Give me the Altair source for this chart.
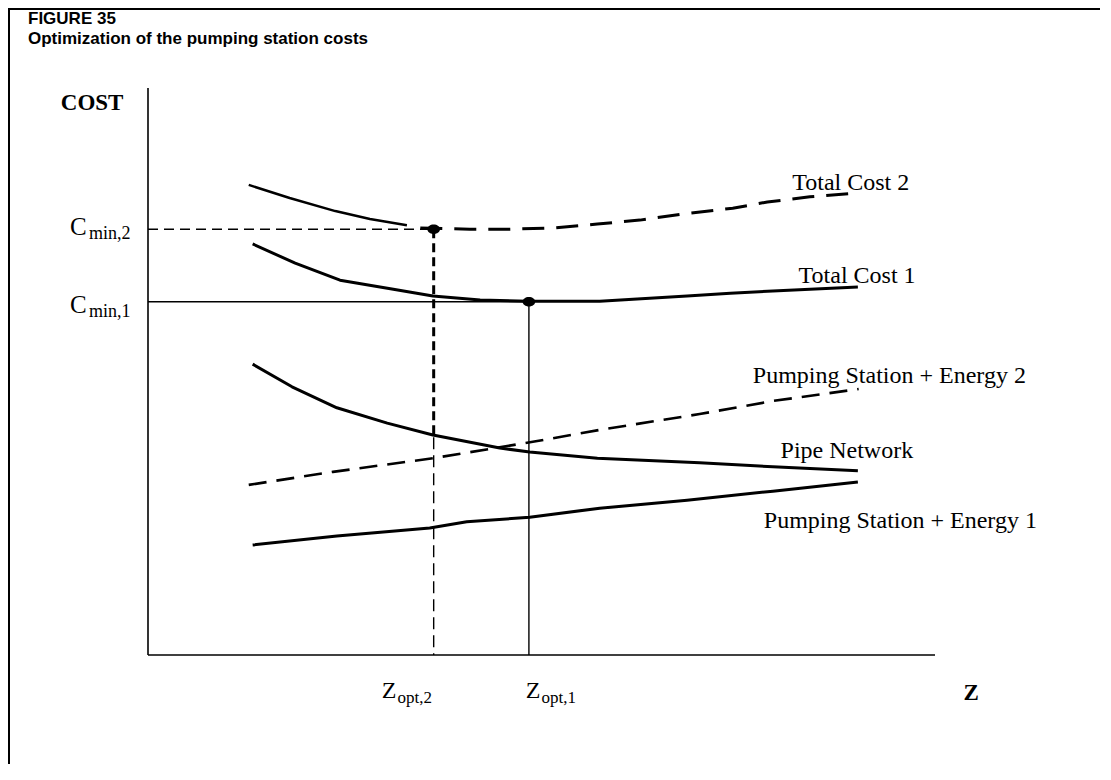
import altair as alt
import pandas as pd

# Both axes are schematic: values are % of the drawn axis length.
tc2a_z = [12.8, 18.0, 23.8, 28.2, 32.9]
tc2a_c = [82.9, 80.6, 78.3, 76.9, 75.8]
tc2b_z = [34.6, 40.9, 46.0, 51.5, 57.1, 62.5, 68.0, 74.3, 78.7, 84.1, 90.2]
tc2b_c = [75.3, 75.1, 75.1, 75.3, 76.0, 76.7, 77.8, 78.8, 79.9, 80.8, 81.5]
tc1_z = [13.3, 18.7, 24.4, 30.8, 36.2, 42.2, 48.3, 57.4, 68.5, 74.0, 79.4, 90.2]
tc1_c = [72.5, 69.1, 66.1, 64.6, 63.3, 62.6, 62.4, 62.4, 63.3, 63.8, 64.2, 64.9]
pipe_z = [13.3, 18.3, 24.0, 30.4, 36.2, 44.7, 48.5, 57.1, 70.1, 79.4, 90.2]
pipe_c = [51.3, 47.3, 43.6, 40.9, 38.8, 36.5, 35.8, 34.7, 33.9, 33.2, 32.5]
pse2_z = [12.8, 23.5, 36.2, 48.9, 57.4, 70.1, 79.4, 90.3]
pse2_c = [30.0, 32.3, 34.7, 37.6, 39.7, 42.5, 44.8, 46.9]
pse1_z = [13.3, 24.0, 35.8, 40.5, 48.5, 57.4, 68.5, 79.4, 90.2]
pse1_c = [19.4, 21.0, 22.4, 23.5, 24.3, 25.9, 27.3, 28.9, 30.5]

z_opt = [36.3, 48.4]   # Z_opt,2 , Z_opt,1
c_min = [75.1, 62.3]   # C_min,2 , C_min,1
z_bold_end = 38.4      # where the bold part of the Z_opt,2 drop line ends

curve_labels = ["Total Cost 2", "Total Cost 1", "Pumping Station + Energy 2",
                "Pipe Network", "Pumping Station + Energy 1"]
curve_label_z = [89.3, 90.1, 94.2, 88.8, 95.6]
curve_label_c = [82.0, 65.6, 48.0, 34.7, 22.4]

c_letters = ["C", "C"]
c_subs = ["min,2", "min,1"]
c_letter_z = [-9.9, -9.9]
c_letter_c = [74.1, 60.3]
c_sub_z = [-7.5, -7.5]
c_sub_c = [73.4, 59.6]

z_letters = ["Z", "Z"]
z_subs = ["opt,2", "opt,1"]
z_letter_z = [29.7, 48.0]
z_letter_c = [-7.6, -7.6]
z_sub_z = [31.7, 50.0]
z_sub_c = [-8.5, -8.5]

axis_titles = ["COST", "Z"]
axis_title_z = [-7.1, 104.6]
axis_title_c = [96.1, -7.9]

title_lines = ["FIGURE 35", "Optimization of the pumping station costs"]

W, H = 1092, 756
XS = alt.Scale(domain=[0, 100], range=[140, 927], nice=False, zero=False)
YS = alt.Scale(domain=[0, 100], range=[647, 80], nice=False, zero=False)
SERIF = "Liberation Serif"


def pts(zs, cs):
    return pd.DataFrame({"z": zs, "c": cs, "i": list(range(len(zs)))})


def line(df, width, dash=None):
    kw = dict(color="black", strokeWidth=width, strokeCap="butt", strokeJoin="round")
    if dash:
        kw["strokeDash"] = dash
    return alt.Chart(df).mark_line(**kw).encode(
        x=alt.X("z:Q", scale=XS, axis=None),
        y=alt.Y("c:Q", scale=YS, axis=None),
        order="i:Q",
    )


def text(texts, zs, cs, size, align="left", weight="normal"):
    df = pd.DataFrame({"t": texts, "z": zs, "c": cs})
    return alt.Chart(df).mark_text(
        align=align, baseline="alphabetic", font=SERIF, fontSize=size,
        fontWeight=weight, color="black",
    ).encode(
        x=alt.X("z:Q", scale=XS, axis=None),
        y=alt.Y("c:Q", scale=YS, axis=None),
        text="t:N",
    )


layers = [
    # axes
    line(pts([0, 0], [0, 100]), 1.6),
    line(pts([0, 100], [0, 0]), 1.6),
    # guide lines
    line(pts([0, z_opt[0]], [c_min[0], c_min[0]]), 1.6, [10, 6]),
    line(pts([0, z_opt[1]], [c_min[1], c_min[1]]), 1.4),
    line(pts([z_opt[0], z_opt[0]], [c_min[0], z_bold_end]), 3, [9, 5]),
    line(pts([z_opt[0], z_opt[0]], [z_bold_end, 0]), 1.4, [12, 6]),
    line(pts([z_opt[1], z_opt[1]], [c_min[1], 0]), 1.4),
    # curves
    line(pts(tc2a_z, tc2a_c), 2.4),
    line(pts(tc2b_z, tc2b_c), 3, [22, 12]),
    line(pts(tc1_z, tc1_c), 3),
    line(pts(pipe_z, pipe_c), 3),
    line(pts(pse2_z, pse2_c), 2.6, [18, 10]),
    line(pts(pse1_z, pse1_c), 3),
    # optimum points
    alt.Chart(pd.DataFrame({"z": z_opt, "c": c_min})).mark_point(
        filled=True, color="black", opacity=1, size=160,
        shape="M -1 0 A 1 0.75 0 1 1 1 0 A 1 0.75 0 1 1 -1 0 Z",
    ).encode(
        x=alt.X("z:Q", scale=XS, axis=None),
        y=alt.Y("c:Q", scale=YS, axis=None),
    ),
    # labels
    text(curve_labels, curve_label_z, curve_label_c, 24, align="center"),
    text(c_letters, c_letter_z, c_letter_c, 25),
    text(c_subs, c_sub_z, c_sub_c, 18),
    text(z_letters, z_letter_z, z_letter_c, 24),
    text(z_subs, z_sub_z, z_sub_c, 17),
    text(axis_titles, axis_title_z, axis_title_c, 23, align="center", weight="bold"),
]

one = pd.DataFrame({"a": [0]})
# figure frame (left and top edge) and heading
layers += [
    alt.Chart(one).mark_rule(color="black", strokeWidth=2).encode(
        x=alt.value(1), y=alt.value(0), y2=alt.value(H)),
    alt.Chart(one).mark_rule(color="black", strokeWidth=2).encode(
        x=alt.value(0), x2=alt.value(W), y=alt.value(1)),
    alt.Chart(one).mark_text(align="left", baseline="alphabetic", font="Liberation Sans",
                             fontSize=17, fontWeight="bold", color="black").encode(
        x=alt.value(20), y=alt.value(16), text=alt.value(title_lines[0])),
    alt.Chart(one).mark_text(align="left", baseline="alphabetic", font="Liberation Sans",
                             fontSize=17, fontWeight="bold", color="black").encode(
        x=alt.value(20), y=alt.value(36), text=alt.value(title_lines[1])),
]

chart = alt.layer(*layers).properties(
    width=W, height=H, padding=0,
    autosize=alt.AutoSizeParams(type="none"),
).configure_view(stroke=None).configure(background="white")

chart.save("out.html", embed_options={"renderer": "svg", "actions": False})
